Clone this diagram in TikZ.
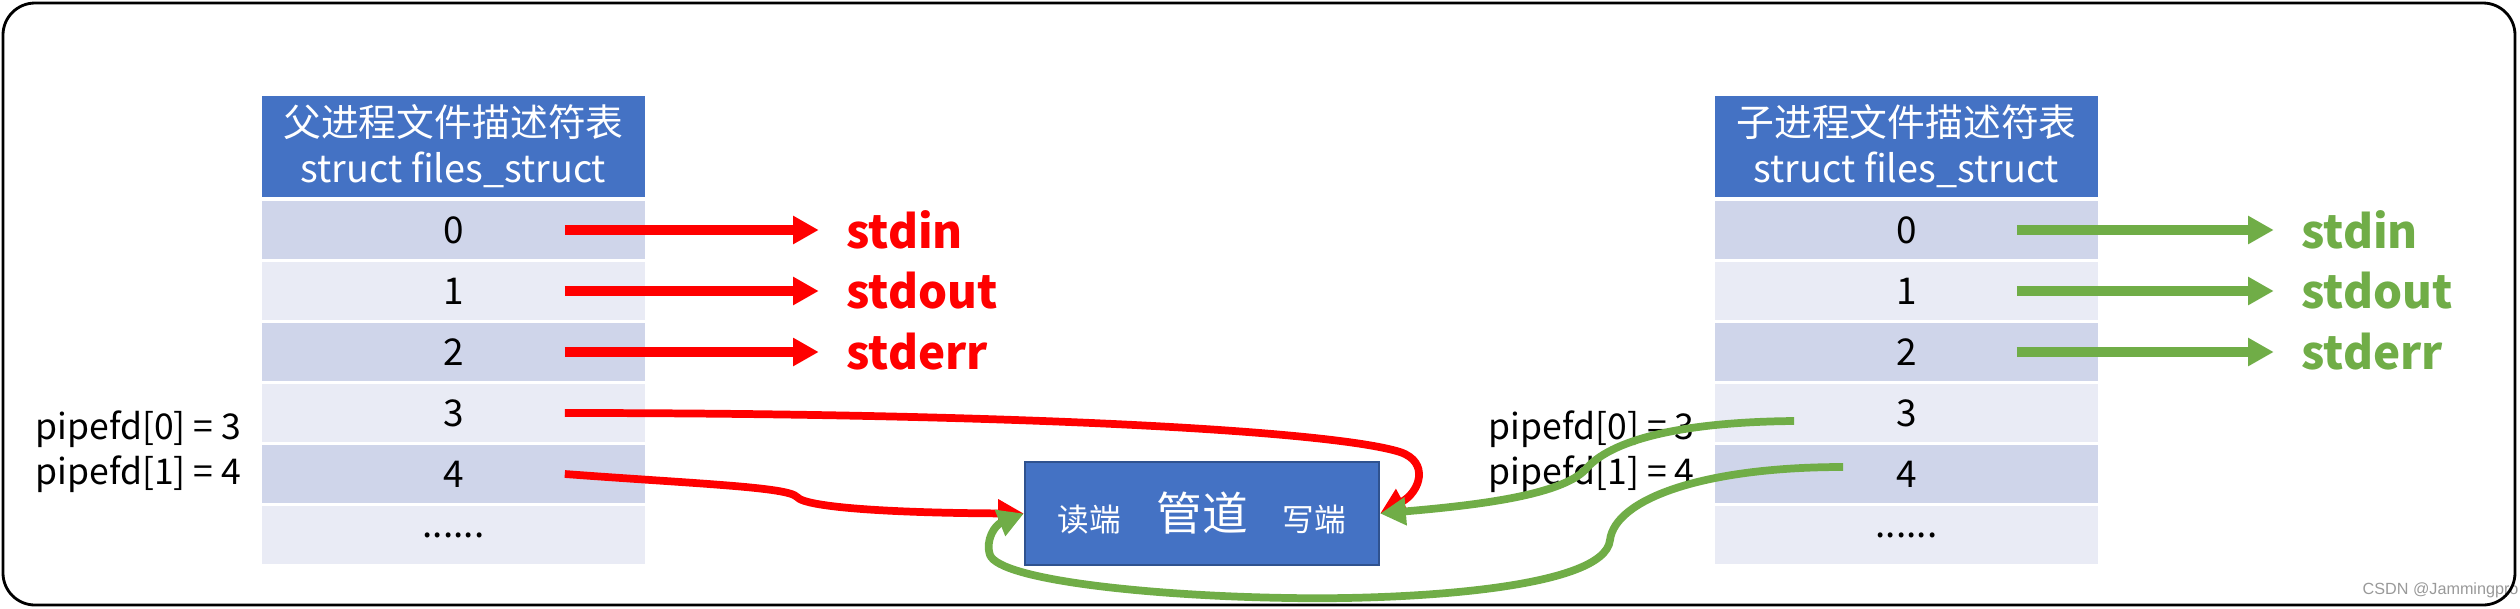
\documentclass[tikz,border=0pt]{standalone}
\usepackage{fontspec}
\setmainfont{Noto Sans CJK SC}
\newfontfamily\wmfont{Liberation Sans}
\usepackage{tikz}
\usetikzlibrary{arrows.meta,calc}
\definecolor{hdblue}{HTML}{4472C4}
\definecolor{rowdark}{HTML}{CFD5EA}
\definecolor{rowlight}{HTML}{E9EBF5}
\definecolor{pipeedge}{HTML}{2F528F}
\definecolor{fdred}{HTML}{FF0000}
\definecolor{fdgreen}{HTML}{70AD47}
\tikzset{
  >={Triangle[length=7.3pt,width=7.6pt]},
  frame/.style={draw=black,line width=0.8pt,rounded corners=0.32cm},
  % tabeller
  hd/.style={fill=hdblue,text=white,minimum width=3.83cm,minimum height=1.01cm,
             inner sep=0pt,align=center,font=\fontsize{10.75}{13.1}\selectfont},
  rd/.style={fill=rowdark,minimum width=3.83cm,minimum height=0.57cm,inner sep=0pt,
             font=\fontsize{10.5}{13}\selectfont},
  rl/.style={rd,fill=rowlight},
  lbl/.style={anchor=west,inner sep=0pt,font=\fontsize{13}{15}\bfseries},
  pfd/.style={inner sep=0pt,align=right,font=\fontsize{10.1}{12.8}\selectfont},
  % rör
  pipebox/.style={fill=hdblue,draw=pipeedge,line width=0.6pt,minimum width=3.54cm,
                  minimum height=1.03cm,inner sep=0pt},
  pend/.style={text=white,inner sep=0pt,font=\fontsize{9}{10}\selectfont},
  pname/.style={text=white,inner sep=0pt,font=\fontsize{13}{14}\selectfont},
  wm/.style={anchor=west,inner sep=0pt,text=black!40,font=\wmfont\fontsize{4.6}{5}\selectfont},
  % pilar
  redfd/.style={->,draw=fdred,line width=2.8pt,shorten >=7.7pt},
  greenfd/.style={->,draw=fdgreen,line width=2.8pt,shorten >=7.7pt},
  redcv/.style={->,draw=fdred,line width=2.2pt},
  greencv/.style={->,draw=fdgreen,line width=2.2pt},
}
\begin{document}
\begin{tikzpicture}[x=0.01cm,y=-0.01cm]
\useasboundingbox (0,0) rectangle (2520,608);
  \node[wm] (mark) at (2362,590) {CSDN @Jammingpro};
  \draw[frame] (3,3) rectangle (2515,605);
  % parent
  \node[hd] (ph) at (453.5,146.5) {父进程文件描述符表\\struct files\_struct};
  \node[rd] (pf0) at (453.5,230) {0};
  \node[rl] (pf1) at (453.5,291) {1};
  \node[rd] (pf2) at (453.5,352) {2};
  \node[rl] (pf3) at (453.5,413) {3};
  \node[rd] (pf4) at (453.5,474) {4};
  \node[rl] (pf5) at (453.5,535) {......};
  \node[pfd,anchor=east] (pfdp) at (242,452) {pipefd[0] = 3\\pipefd[1] = 4};
  \node[lbl,text=fdred] (pin) at ($(pf0.east)+(200,0)$) {stdin};
  \node[lbl,text=fdred] (pout) at ($(pf1.east)+(200,0)$) {stdout};
  \node[lbl,text=fdred] (perr) at ($(pf2.east)+(200,0)$) {stderr};
  % child
  \node[hd] (ch) at (1906.5,146.5) {子进程文件描述符表\\struct files\_struct};
  \node[rd] (cf0) at (1906.5,230) {0};
  \node[rl] (cf1) at (1906.5,291) {1};
  \node[rd] (cf2) at (1906.5,352) {2};
  \node[rl] (cf3) at (1906.5,413) {3};
  \node[rd] (cf4) at (1906.5,474) {4};
  \node[rl] (cf5) at (1906.5,535) {......};
  \node[pfd,anchor=west] (pfdc) at (1488,452) {pipefd[0] = 3\\pipefd[1] = 4};
  \node[lbl,text=fdgreen] (cin) at ($(cf0.east)+(202,0)$) {stdin};
  \node[lbl,text=fdgreen] (cout) at ($(cf1.east)+(202,0)$) {stdout};
  \node[lbl,text=fdgreen] (cerr) at ($(cf2.east)+(202,0)$) {stderr};
  % pipe
  \node[pipebox] (pipe) at (1202,513.5) {};
  \node[pend] (rend) at (1089,520) {读端};
  \node[pname] (pn) at (1202,513) {管道};
  \node[pend] (wend) at (1314,520) {写端};
  \draw[redfd] ($(pf0.east)+(-81,0)$) -- (pin.west);
  \draw[redfd] ($(pf1.east)+(-81,0)$) -- (pout.west);
  \draw[redfd] ($(pf2.east)+(-81,0)$) -- (perr.west);
  \draw[greenfd] ($(cf0.east)+(-82,0)$) -- (cin.west);
  \draw[greenfd] ($(cf1.east)+(-82,0)$) -- (cout.west);
  \draw[greenfd] ($(cf2.east)+(-82,0)$) -- (cerr.west);
  \draw[redcv] ($(pf3.east)+(-81,0)$) .. controls (1000,413) and (1330,430) .. (1400,452)
    .. controls (1430,462) and (1420,492) .. (pipe.east);
  \draw[redcv] ($(pf4.east)+(-81,0)$) .. controls (700,484) and (788,487) .. (797,497)
    .. controls (806,508) and (900,513) .. (pipe.west);
  \draw[greencv] ($(cf3.west)+(80,8)$) .. controls (1680,422) and (1610,440) .. (1585,470)
    .. controls (1560,495) and (1480,505) .. (pipe.east);
  \draw[greencv] ($(cf4.west)+(129,-7)$) .. controls (1700,467) and (1615,500) .. (1610,540)
    .. controls (1605,590) and (1400,600) .. (1290,598)
    .. controls (1150,596) and (1000,580) .. (990,555)
    .. controls (985,540) and (995,525) .. (pipe.west);
\end{tikzpicture}
\end{document}
